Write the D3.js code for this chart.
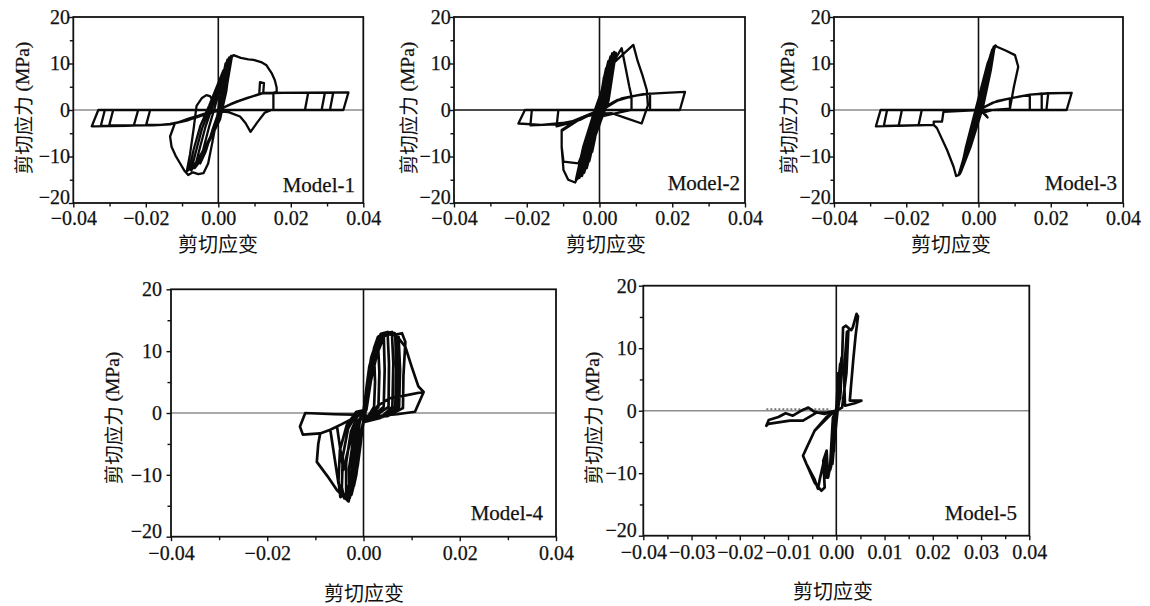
<!DOCTYPE html>
<html>
<head>
<meta charset="utf-8">
<script src="https://cdn.jsdelivr.net/npm/d3@7"></script>
<style>
  html, body { margin: 0; padding: 0; background: #fff; }
  svg { display: block; }
</style>
</head>
<body>
<svg id="chart" width="1150" height="606"></svg>
<script>
// ---- axis ticks ----
const strainTicks = [-0.04, -0.02, 0, 0.02, 0.04];
const strainMinorTicks = [-0.03, -0.01, 0.01, 0.03];
const strainTicksFine = [-0.04, -0.03, -0.02, -0.01, 0, 0.01, 0.02, 0.03, 0.04];
const strainMinorFine = [-0.035, -0.025, -0.015, -0.005, 0.005, 0.015, 0.025, 0.035];
const stressTicks = [-20, -10, 0, 10, 20];
const stressMinorTicks = [-15, -5, 5, 15];
const modelNames = ["Model-1", "Model-2", "Model-3", "Model-4", "Model-5"];

// ---- hysteresis records: [shear strain, shear stress (MPa)] ----
const model1 = [
  [0, 0], [0.0008, 4.5], [0.0015, 8], [0.002, 10],
  [0.0013, 5], [0.0003, 0], [-0.0015, -4], [-0.0035, -9], [-0.005, -11.5],
  [-0.004, -8], [-0.0025, -3.5], [-0.001, 0.5], [0.001, 6.5], [0.0025, 10.8],
  [0.0015, 4.5], [0.0002, -1], [-0.002, -5.5], [-0.0045, -10.5], [-0.0065, -12.5],
  [-0.0052, -8.5], [-0.0035, -3.5], [-0.0015, 1], [0.0012, 7.5], [0.003, 11.3],
  [0.0018, 4], [0.0004, -1.5], [-0.0025, -6.5], [-0.0055, -11], [-0.0075, -13],
  [-0.0062, -9], [-0.0045, -4], [-0.002, 1], [0.0012, 8], [0.0035, 11.6],
  [0.0022, 4], [0.0006, -1.5], [-0.003, -7], [-0.006, -11.2], [-0.008, -12.8],
  [-0.0068, -8.5], [-0.005, -3.5], [-0.0025, 1], [0.0014, 8.5], [0.0038, 11.7],
  [0.002, 3.5], [0.0005, -2], [-0.003, -7.5], [-0.0065, -11.8], [-0.0087, -13.2],
  [-0.0078, -9.5], [-0.0068, -4], [-0.006, 0.9], [-0.0045, 2.6], [-0.0033, 3.2], [-0.0023, 3], [-0.0012, 1.5],
  [0.0008, 6.5], [0.0028, 10.5], [0.0042, 11.8],
  [0.0062, 11.2], [0.0083, 10.9], [0.0097, 10.8], [0.0118, 10.3], [0.0133, 9.6], [0.0148, 7.8], [0.0156, 6.4], [0.0161, 4.8], [0.0161, 3.9],
  [0.0152, 3.7], [0.0152, 0.2], [0.0128, -0.6], [0.0108, -2.6], [0.0089, -4.7], [0.0075, -2.8], [0.006, -1.4], [0.003, -0.5], [0, -0.2],
  [-0.004, -0.9], [-0.008, -1.8], [-0.012, -2.9], [-0.0133, -5.7], [-0.0129, -7.9], [-0.0118, -9.8], [-0.0106, -11.4], [-0.0094, -13], [-0.0083, -14],
  [-0.007, -13.4], [-0.0055, -13.8], [-0.0041, -13.6], [-0.0028, -11.5], [-0.0014, -6], [0, 0],
  [0.003, 1.1], [0.006, 2], [0.009, 2.8], [0.0113, 3.4], [0.0115, 6], [0.0126, 5.8], [0.0124, 3.7], [0.0152, 3.7], [0.0152, 0],
  [0.008, 0], [0, 0], [-0.01, 0], [-0.0188, 0], [-0.0199, -3.2], [-0.016, -3.2], [-0.0133, -3.0], [-0.0087, -2.3], [-0.005, -1.1], [-0.0023, -0.4], [0, 0],
  [0.004, 1.5], [0.008, 2.6], [0.0124, 3.6], [0.018, 3.7], [0.0248, 3.7], [0.0239, 0], [0.012, 0], [0, 0], [-0.012, 0], [-0.0221, 0], [-0.0233, -3.3], [-0.018, -3.3], [-0.0133, -3.1], [-0.0087, -2.3], [-0.003, -0.7], [0, 0],
  [0.005, 1.8], [0.0124, 3.7], [0.0294, 3.7], [0.0285, 0], [0.015, 0], [0, 0], [-0.015, 0], [-0.029, 0], [-0.0301, -3.3], [-0.02, -3.3], [-0.0133, -3.1], [-0.006, -1.6], [0, 0],
  [0.006, 2.1], [0.0124, 3.7], [0.0317, 3.7], [0.0308, 0], [0.015, 0], [0, 0], [-0.015, 0], [-0.0313, 0], [-0.0324, -3.4], [-0.02, -3.3], [-0.0133, -3.1], [-0.006, -1.6], [0, 0],
  [0.006, 2.1], [0.0124, 3.7], [0.0359, 3.8], [0.0345, 0], [0.02, 0], [0, 0], [-0.02, 0], [-0.0331, 0], [-0.0349, -3.5], [-0.025, -3.4], [-0.0133, -3.1]
];

const model2 = [
  [0, 0], [0.0006, 4], [0.0012, 7],
  [0.0005, 2], [-0.0005, -2], [-0.0012, -6], [-0.002, -9],
  [-0.0012, -4], [-0.0002, 0.5], [0.001, 6], [0.0018, 9],
  [0.0009, 3], [-0.0004, -2.5], [-0.0016, -7], [-0.0028, -11],
  [-0.0017, -5], [-0.0003, 0.5], [0.0012, 6.5], [0.0024, 10.5],
  [0.0012, 3], [-0.0004, -3], [-0.002, -8], [-0.0035, -12.5],
  [-0.0022, -5.5], [-0.0004, 0.5], [0.0015, 7], [0.003, 11.5],
  [0.0016, 3], [-0.0003, -3], [-0.0025, -9], [-0.0042, -13.5],
  [-0.0027, -6], [-0.0006, 0.5], [0.0018, 7.5], [0.0035, 12.2],
  [0.0019, 3], [-0.0001, -3], [-0.003, -9.5], [-0.0048, -14.2],
  [-0.0032, -6.5], [-0.0008, 0.5], [0.002, 8], [0.004, 12.5],
  [0.0022, 3], [0.0001, -3], [-0.0035, -10.5], [-0.0055, -14.6],
  [-0.0038, -7], [-0.001, 0.3], [0.0025, 8.5], [0.0045, 12.3],
  [0.0025, 2], [0.0003, -2.5], [-0.004, -11], [-0.006, -14.8],
  [-0.004, -7.5], [-0.0012, 0], [0.0028, 9], [0.0061, 13.3],
  [0.0072, 9], [0.0082, 5], [0.0088, 2.9], [0.0088, 0], [0.004, -0.8], [0, -1.5],
  [-0.0045, -11.5], [-0.0065, -15],
  [-0.0045, -8], [-0.0015, -0.5], [0.003, 9.5], [0.0093, 14],
  [0.0105, 10.5], [0.0118, 7.5], [0.013, 4.3], [0.0133, 1], [0.0116, -2.9], [0.0075, -1.8], [0.0034, -0.7], [0, -0.8],
  [-0.005, -1.6], [-0.0104, -4.3], [-0.0104, -7.9], [-0.0099, -11.1], [-0.0058, -11.5], [-0.003, -6], [0, 0],
  [-0.005, -1.8], [-0.0104, -4.5], [-0.0104, -8], [-0.0099, -12.9], [-0.0086, -15], [-0.0067, -15.6], [-0.005, -13], [-0.003, -7.5], [-0.001, -2], [0, 0],
  [0.004, 1.8], [0.0088, 2.9], [0.0088, 0], [0, 0], [-0.0113, 0], [-0.0118, -3.5], [-0.009, -3], [-0.005, -2], [0, 0],
  [0.005, 2.2], [0.01, 3.1], [0.0139, 3.5], [0.0139, 0], [0, 0], [-0.0186, 0], [-0.019, -3.3], [-0.012, -3.1], [-0.006, -2.2], [0, -0.3],
  [0.006, 2.5], [0.012, 3.4], [0.018, 3.7], [0.0235, 3.9], [0.0221, 0], [0.01, 0], [0, 0], [-0.0205, 0], [-0.0223, -2.9], [-0.016, -3.2], [-0.008, -2.6], [0, 0]
];

const model3 = [
  [0, 0], [0.001, 4], [0.002, 8],
  [0.0012, 4], [0, -0.5], [-0.001, -3], [-0.002, -6],
  [-0.0012, -2.5], [0, 1], [0.0015, 6.5], [0.0028, 10.5],
  [0.0018, 5.5], [0.0002, -0.5], [-0.0015, -5], [-0.003, -9],
  [-0.0019, -4.5], [-0.0002, 1], [0.0018, 7.5], [0.0034, 12],
  [0.0023, 6.5], [0.0004, -0.5], [-0.002, -6.5], [-0.0038, -11],
  [-0.0025, -6], [-0.0003, 1], [0.002, 8.5], [0.0038, 13],
  [0.0026, 7], [0.0005, -0.5], [-0.0025, -8], [-0.0045, -12.5],
  [-0.003, -7], [-0.0004, 1], [0.0022, 9], [0.0042, 13.6],
  [0.003, 7.5], [0.0006, -0.5], [-0.003, -9.5], [-0.005, -13.5],
  [-0.0035, -8], [-0.0005, 1], [0.0025, 10], [0.0045, 13.8],
  [0.0034, 8.5], [0.0012, 0.5], [-0.0022, -8], [-0.0048, -13.2], [-0.0052, -13.8],
  [-0.0042, -10.5], [-0.0022, -4.5], [0, 1.5], [0.0018, 6], [0.0035, 11], [0.0047, 13.9],
  [0.0051, 13.6], [0.0075, 12.8], [0.0101, 11.8], [0.011, 9.3], [0.0098, 5], [0.0087, 0.3],
  [0.004, 0], [0.0015, -0.5], [0.0025, -1.6], [0.0012, -0.6], [0, 0],
  [-0.005, 0], [-0.0097, -0.4], [-0.0101, -2.5], [-0.0124, -2.5], [-0.0124, -3.2], [-0.0115, -3.9], [-0.0087, -8.6], [-0.0069, -12.2], [-0.0062, -14.2], [-0.0055, -14], [-0.004, -10], [-0.002, -5], [0, 0],
  [0.004, 1.6], [0.0087, 2.5], [0.0087, 0], [0, 0], [-0.0157, 0], [-0.0166, -3.3], [-0.0124, -3.2], [-0.0124, -2.5], [-0.0101, -2.5], [-0.0097, -0.4], [0, 0],
  [0.004, 1.6], [0.0087, 2.5], [0.0142, 3.3], [0.0142, 0], [0, 0], [-0.0212, 0], [-0.0221, -3.4], [-0.0124, -3.2], [-0.0124, -2.5], [-0.0101, -2.5], [-0.0097, -0.4], [0, 0],
  [0.005, 1.9], [0.0087, 2.5], [0.0142, 3.3], [0.0175, 3.5], [0.0175, 0], [0, 0], [-0.0253, 0], [-0.0262, -3.4], [-0.0124, -3.2], [-0.0124, -2.5], [-0.0101, -2.5], [-0.0097, -0.4], [0, 0],
  [0.005, 1.9], [0.0087, 2.5], [0.0142, 3.3], [0.0193, 3.6], [0.0188, 0], [0, 0], [-0.0271, 0], [-0.0284, -3.5], [-0.0124, -3.2], [-0.0124, -2.5], [-0.0101, -2.5], [-0.0097, -0.4], [0, 0],
  [0.005, 1.9], [0.0087, 2.5], [0.0142, 3.3], [0.02, 3.6], [0.0258, 3.7], [0.0244, 0], [0, 0]
];

const model4 = [
  [0, 0], [0.0006, 4], [0.0012, 7.5], [0.0018, 9.2], [0.0022, 9.5], [0.0024, 5], [0.0022, 1], [0.001, -0.5], [0, -1],
  [-0.0006, -5], [-0.0012, -8.5], [-0.0016, -10], [-0.0015, -6], [-0.0008, -1.5], [0, 0.3],
  [0.0008, 5], [0.0016, 9], [0.0025, 11], [0.003, 11.6], [0.0033, 6.5], [0.0031, 1], [0.0014, -0.6], [0, -1.2],
  [-0.0008, -6], [-0.0015, -10], [-0.002, -11.8], [-0.0019, -7], [-0.001, -1.5], [0.0002, 0.5],
  [0.0012, 6], [0.0022, 10.5], [0.003, 12.3], [0.0042, 12.9], [0.0044, 7], [0.0042, 1], [0.0016, -0.7], [0, -1.3],
  [-0.001, -7], [-0.0018, -11], [-0.0025, -13.2], [-0.0024, -8], [-0.0013, -2], [0.0003, 0.5],
  [0.0015, 7], [0.0026, 11], [0.0036, 12.8], [0.005, 13.1], [0.0053, 8], [0.0052, 1], [0.0018, -0.8], [0, -1.4],
  [-0.0012, -8], [-0.0022, -12], [-0.0029, -13.8], [-0.003, -9], [-0.0018, -2.5], [0.0004, 0.5],
  [0.0018, 7.5], [0.003, 11.5], [0.0042, 12.9], [0.0059, 13.1], [0.0062, 8], [0.006, 1], [0.0035, -0.8], [0, -1.5],
  [-0.0015, -8.5], [-0.0026, -12.5], [-0.0031, -14.3], [-0.0036, -13], [-0.0036, -8], [-0.0026, -3], [-0.001, 0], [0.0005, 0.5],
  [0.002, 8], [0.0035, 12], [0.0055, 13], [0.0066, 12.6], [0.0068, 7], [0.0066, 1], [0.004, -0.6], [0, -1.5],
  [-0.0018, -9], [-0.003, -12.5], [-0.004, -13.8], [-0.0045, -12], [-0.0043, -7], [-0.0032, -2.5], [-0.0012, 0.2], [0.0005, 0.5],
  [0.0021, 8.2], [0.0038, 12.3], [0.0057, 13], [0.007, 12.5], [0.0071, 7], [0.007, 1], [0.0042, -0.6], [0, -1.4],
  [-0.002, -9.5], [-0.003, -13], [-0.0031, -14.3], [-0.0042, -13.2], [-0.0052, -11.4], [-0.0069, -2.7], [-0.0055, -2.2], [-0.0042, -9.2], [-0.0032, -6], [-0.0018, -2], [0.0006, 0.5],
  [0.0022, 8.5], [0.004, 12.5], [0.006, 13], [0.0073, 12.3], [0.0076, 7], [0.0074, 1], [0.0045, -0.5], [0, -1.3],
  [-0.0022, -9.5], [-0.0035, -13], [-0.0048, -13.6], [-0.0052, -11], [-0.0049, -6], [-0.0035, -2], [-0.0015, 0.2], [0.0005, 0.5],
  [-0.0025, -10], [-0.0031, -14.3], [-0.0055, -12.5], [-0.0075, -10.2], [-0.0097, -7.9], [-0.0094, -5], [-0.009, -3.3], [-0.0069, -2.7], [-0.0045, -1.8], [-0.002, -0.8], [0, 0],
  [0.0025, 9], [0.0042, 12.9], [0.0062, 12.6], [0.008, 12.9], [0.0087, 11.5], [0.0083, 6], [0.0082, 0.8], [0.005, -0.5], [0.0014, -0.6], [0, -0.3],
  [-0.006, -0.2], [-0.0121, 0], [-0.0132, -2.2], [-0.0126, -3.5], [-0.009, -3.3], [-0.0069, -2.7], [-0.0045, -1.8], [-0.002, -0.8], [0, 0],
  [0.0028, 9.5], [0.0045, 12.8], [0.0065, 12.9], [0.0087, 10.7], [0.01, 7.5], [0.0114, 4.3], [0.0125, 3.4], [0.0107, 0.2], [0.007, -0.2], [0.0014, -0.6],
  [0.003, 1.2], [0.0055, 2.4], [0.0085, 2.8], [0.0123, 3.4]
];

const model5 = [
  [0, 0], [0.0002, 3], [0.0004, 6], [0.0003, 2], [0, -0.5], [-0.0003, -4], [-0.0005, -6.5], [-0.0003, -2], [0, 0.5],
  [0.0005, 5], [0.0008, 7.5], [0.0006, 2.5], [0.0002, -0.5], [-0.0004, -5], [-0.0008, -8.5], [-0.0005, -3], [0, 0.5],
  [0.0007, 6], [0.0011, 8.5], [0.0009, 3], [0.0004, 0.5], [-0.0003, -2], [-0.0011, -9], [-0.0013, -9.5], [-0.0008, -4], [0, 0.5],
  [0.0008, 2], [0.0012, 8], [0.0014, 13.3], [0.002, 13.6], [0.0026, 13.2], [0.0031, 12.9], [0.0034, 13.3], [0.0042, 15.5], [0.0045, 15.1],
  [0.004, 12], [0.0035, 8], [0.003, 3.5], [0.0028, 1.6], [0.0052, 1.6], [0.0038, 1.2], [0.0018, 0.8], [0.0016, 6], [0.0022, 12.6], [0.0025, 12.8], [0.0021, 6], [0.0012, 0.5], [0, 0],
  [-0.0003, -3.7], [-0.0007, -6], [-0.0013, -9.1], [-0.0017, -10.7], [-0.002, -6.4], [-0.0027, -8], [-0.0024, -12.3], [-0.0031, -12.8],
  [-0.0045, -11.5], [-0.0062, -8.5], [-0.0069, -7.2], [-0.0062, -6], [-0.0045, -3.2], [-0.002, -1], [0, 0],
  [-0.0007, -1.1], [-0.0013, -9.1], [-0.002, -10.7], [-0.0024, -7.5], [-0.0034, -10.9], [-0.0038, -12.5], [-0.0045, -11], [-0.0062, -8.5], [-0.0069, -7.2], [-0.0045, -3.2], [-0.001, -0.5], [0, 0],
  [-0.002, -0.3], [-0.0041, -0.3], [-0.0069, -1.6], [-0.0096, -1.6], [-0.0141, -2.1], [-0.0145, -2.4], [-0.014, -1.5], [-0.012, -1], [-0.0105, -0.4], [-0.009, -0.8], [-0.0075, -0.1], [-0.0058, 0.5], [-0.0045, -0.2], [-0.0025, -0.5], [0, 0]
];
const model5Trace = [[-0.0145, 0.25], [-0.0012, 0.25]];

// ---- layout of the five panels ----
const svg = d3.select("#chart");
const panels = [
  { name: modelNames[0], data: model1, box: [73.3, 363.3, 17, 203], hZero: "#8d8d8d", xt: strainTicks, xm: strainMinorTicks,
    yTitle: [22, 108], xTitle: [218, 243], label: [355, 192], lw: 2.3, xPad: 3.5, yPad: -1.2 },
  { name: modelNames[1], data: model2, box: [454, 745, 17, 203], hZero: "#111", xt: strainTicks, xm: strainMinorTicks,
    yTitle: [407, 108], xTitle: [606, 243], label: [740, 190], lw: 2.3, xPad: 3.5, yPad: -1.2 },
  { name: modelNames[2], data: model3, box: [834, 1123, 17, 203], hZero: "#8d8d8d", xt: strainTicks, xm: strainMinorTicks,
    yTitle: [787, 108], xTitle: [951, 243], label: [1117, 190], lw: 2.3, xPad: 3.5, yPad: -1.2 },
  { name: modelNames[3], data: model4, box: [171, 556, 289.3, 536.7], hZero: "#8d8d8d", xt: strainTicks, xm: strainMinorTicks,
    yTitle: [112, 418], xTitle: [364, 592], label: [543, 520], lw: 2.7, xPad: 4.5, yPad: 4.5 },
  { name: modelNames[4], data: model5, box: [643.3, 1029.3, 285.7, 535.7], hZero: "#8d8d8d", xt: strainTicksFine, xm: strainMinorFine,
    yTitle: [592, 418], xTitle: [833, 590], label: [1017, 520], lw: 2.7, xPad: 5, yPad: 2 }
];

const serif = '"Liberation Serif", "Times New Roman", serif';
const cjk = '"Noto Sans CJK SC", "Noto Sans", sans-serif';
const fmtStrain = d3.format(".2f");
const fmtStress = d3.format("d");

panels.forEach((p, i) => {
  const [x0, x1, y0, y1] = p.box;
  const x = d3.scaleLinear().domain([-0.04, 0.04]).range([x0, x1]);
  const y = d3.scaleLinear().domain([-20, 20]).range([y1, y0]);
  const g = svg.append("g").attr("class", "panel");

  // zero reference lines
  g.append("line").attr("x1", x0).attr("x2", x1).attr("y1", y(0)).attr("y2", y(0))
    .attr("stroke", p.hZero).attr("stroke-width", 1.5);
  g.append("line").attr("x1", x(0)).attr("x2", x(0)).attr("y1", y0).attr("y2", y1)
    .attr("stroke", "#111").attr("stroke-width", 1.6);

  if (i === 4) {
    g.append("path").datum(model5Trace)
      .attr("d", d3.line().x(d => x(d[0])).y(d => y(d[1])))
      .attr("fill", "none").attr("stroke", "#777").attr("stroke-width", 1.6)
      .attr("stroke-dasharray", "2,2");
  }

  // hysteresis curve
  g.append("path").datum(p.data)
    .attr("d", d3.line().x(d => x(d[0])).y(d => y(d[1])))
    .attr("fill", "none").attr("stroke", "#0a0a0a")
    .attr("stroke-width", p.lw).attr("stroke-linejoin", "round").attr("stroke-linecap", "round");

  // axes
  const styleAxis = sel => {
    sel.select(".domain").remove();
    sel.selectAll(".tick line").attr("stroke", "#111").attr("stroke-width", 1.4);
    sel.attr("font-family", serif).attr("font-size", 20);
    sel.selectAll(".tick text").attr("fill", "#111").attr("stroke", "#111").attr("stroke-width", 0.25);
  };
  g.append("g").attr("transform", `translate(0,${y1})`)
    .call(d3.axisBottom(x).tickValues(p.xm).tickSize(3.5).tickFormat(""))
    .call(styleAxis);
  g.append("g").attr("transform", `translate(0,${y1})`)
    .call(d3.axisBottom(x).tickValues(p.xt).tickSize(4.5).tickPadding(p.xPad).tickFormat(fmtStrain))
    .call(styleAxis);
  g.append("g").attr("transform", `translate(${x0},0)`)
    .call(d3.axisLeft(y).tickValues(stressMinorTicks).tickSize(3.5).tickFormat(""))
    .call(styleAxis);
  const yAxis = g.append("g").attr("transform", `translate(${x0},0)`)
    .call(d3.axisLeft(y).tickValues(stressTicks).tickSize(4.5).tickPadding(p.yPad).tickFormat(fmtStress))
    .call(styleAxis);
  // lowest stress label sits a little above its tick, clear of the strain labels
  yAxis.selectAll(".tick text").filter(d => d === -20).attr("y", -6);

  // frame
  g.append("rect").attr("x", x0).attr("y", y0).attr("width", x1 - x0).attr("height", y1 - y0)
    .attr("fill", "none").attr("stroke", "#111").attr("stroke-width", 1.8);

  // titles
  const yt = g.append("text")
    .attr("transform", `translate(${p.yTitle[0]},${p.yTitle[1]}) rotate(-90)`)
    .attr("text-anchor", "middle").attr("dominant-baseline", "central")
    .attr("fill", "#111").attr("font-size", 19.5);
  yt.append("tspan").attr("font-family", cjk).text("剪切应力");
  yt.append("tspan").attr("font-family", serif).attr("stroke", "#111").attr("stroke-width", 0.25).text(" (MPa)");

  g.append("text").attr("x", p.xTitle[0]).attr("y", p.xTitle[1])
    .attr("text-anchor", "middle").attr("dominant-baseline", "central")
    .attr("font-family", cjk).attr("font-size", 20).attr("fill", "#111")
    .text("剪切应变");

  g.append("text").attr("x", p.label[0]).attr("y", p.label[1])
    .attr("text-anchor", "end").attr("font-family", serif).attr("font-size", 21)
    .attr("fill", "#111").attr("stroke", "#111").attr("stroke-width", 0.25).text(p.name);
});
</script>
</body>
</html>
